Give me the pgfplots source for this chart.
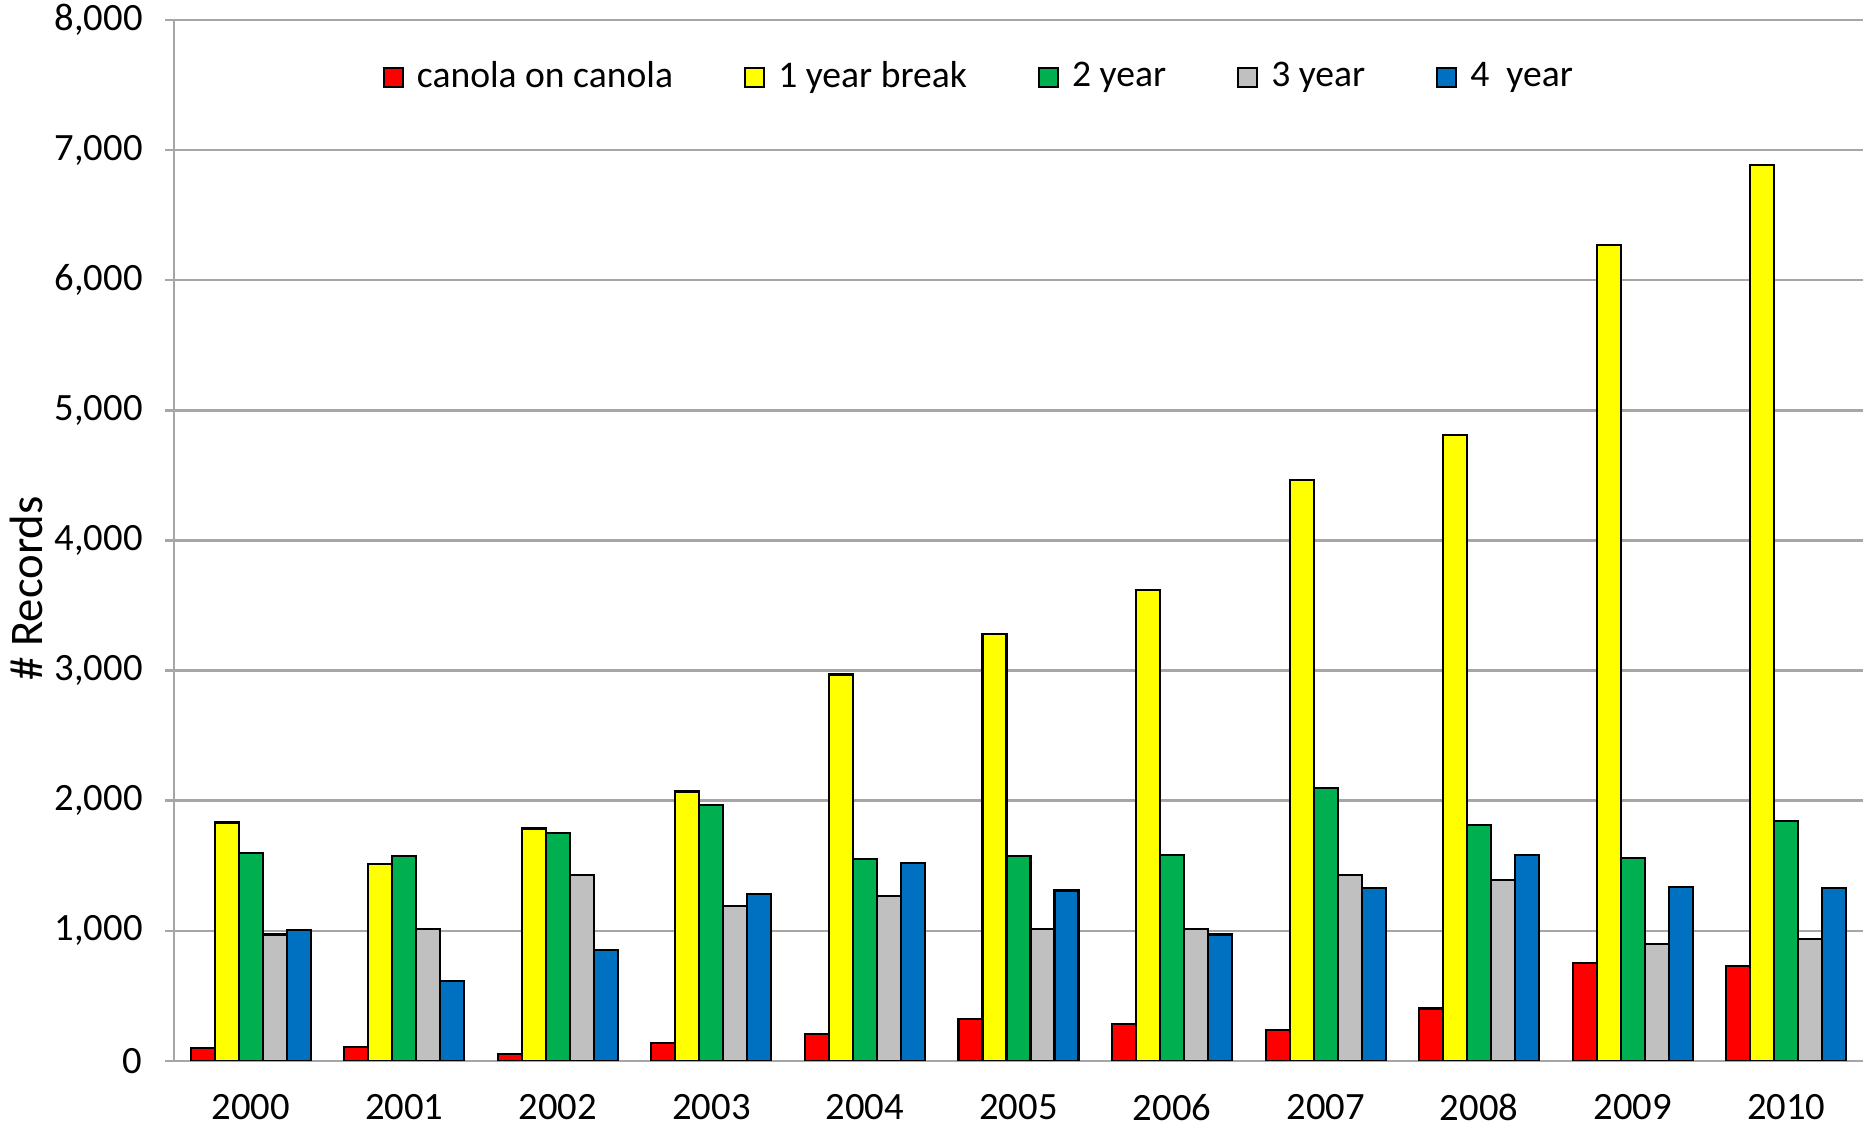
\documentclass[border=0pt]{standalone}
\usepackage{fontspec}
\setmainfont{Carlito}
\usepackage{pgfplots}
\pgfplotsset{compat=1.18}
\definecolor{cRed}{HTML}{FF0000}
\definecolor{cYel}{HTML}{FFFF00}
\definecolor{cGrn}{HTML}{00B050}
\definecolor{cGry}{HTML}{C0C0C0}
\definecolor{cBlu}{HTML}{0070C0}
\definecolor{axgray}{HTML}{A6A6A6}

\begin{document}
\begin{tikzpicture}
\begin{axis}[
  scale only axis,
  width=16.89cm, height=10.41cm,
  ybar=0pt, bar width=0.24cm,
  xmin=-0.5, xmax=10.5,
  ymin=0, ymax=8000,
  xtick={0,...,10},
  xticklabels={2000,2001,2002,2003,2004,2005,2006,2007,2008,2009,2010},
  x tick style={draw=none},
  extra x ticks={-0.5,0.5,...,10.5},
  extra x tick labels={},
  extra x tick style={tick style={draw=axgray, line width=0.7pt}, major tick length=0.12cm, tick align=outside, grid=none},
  ytick={0,1000,...,8000},
  scaled y ticks=false,
  y tick style={draw=axgray, line width=0.7pt},
  major tick length=0.09cm,
  tick align=outside,
  ymajorgrids=true,
  grid style={draw=axgray, line width=0.7pt},
  axis x line*=bottom, axis y line*=left,
  axis line style={draw=axgray, line width=0.7pt, -},
  /pgf/number format/assume math mode=true,
  /pgf/number format/1000 sep={,},
  tick label style={font=\fontsize{11}{13}\selectfont},
  yticklabel style={xshift=-0.1cm},
  xticklabel style={yshift=-0.12cm},
  every axis y label/.style={at={(axis description cs:-0.0876,0.454)}, rotate=90, anchor=center},
  ylabel={\fontsize{13.3}{15}\selectfont \# Records},
  legend columns=5,
  legend style={at={(axis description cs:0.478,0.945)}, anchor=center, draw=none, fill=none,
    font=\fontsize{10.7}{13}\selectfont, column sep=0.06cm,
    /tikz/every even column/.style={column sep=0.64cm}},
  legend image code/.code={\draw[#1, line width=0.6pt] (0cm,-0.095cm) rectangle (0.19cm,0.095cm);},
  every axis plot/.append style={draw=black, line width=0.6pt},
]
\addplot[fill=cRed] coordinates {(0,100) (1,110) (2,55) (3,137) (4,210) (5,320) (6,284) (7,238) (8,403) (9,752) (10,733)};
\addplot[fill=cYel] coordinates {(0,1833) (1,1512) (2,1787) (3,2071) (4,2970) (5,3281) (6,3620) (7,4464) (8,4812) (9,6270) (10,6883)};
\addplot[fill=cGrn] coordinates {(0,1595) (1,1577) (2,1750) (3,1970) (4,1549) (5,1576) (6,1586) (7,2099) (8,1815) (9,1558) (10,1842)};
\addplot[fill=cGry] coordinates {(0,972) (1,1017) (2,1430) (3,1191) (4,1265) (5,1017) (6,1017) (7,1430) (8,1393) (9,898) (10,935)};
\addplot[fill=cBlu] coordinates {(0,1008) (1,614) (2,852) (3,1283) (4,1521) (5,1310) (6,972) (7,1329) (8,1586) (9,1338) (10,1329)};
\legend{canola on canola, 1 year break, 2 year, 3 year, 4\ \ year}
\end{axis}
\pgfresetboundingbox
\path (-1.74,-0.66) rectangle (16.96,10.61);
\end{tikzpicture}
\end{document}
